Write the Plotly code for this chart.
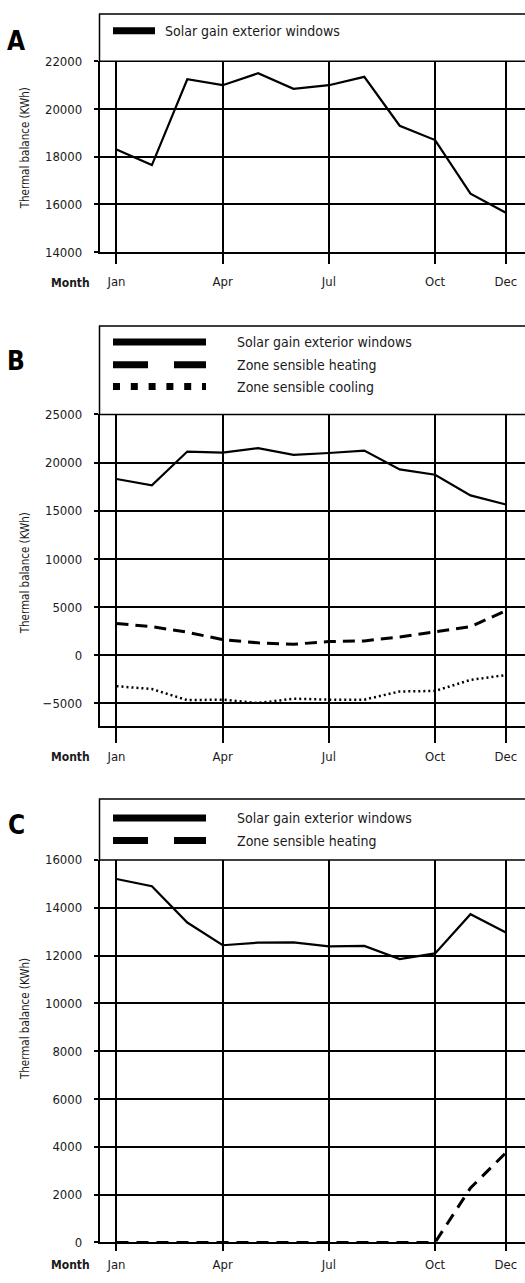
import plotly.graph_objects as go

W, H = 525, 1283

months = ["Jan", "Feb", "Mar", "Apr", "May", "Jun", "Jul", "Aug", "Sep", "Oct", "Nov", "Dec"]
month_num = list(range(1, 13))
tick_months = [1, 4, 7, 10, 12]
tick_labels = ["Jan", "Apr", "Jul", "Oct", "Dec"]

# Panel A
solar_A = [18300, 17650, 21250, 21000, 21500, 20850, 21000, 21350, 19300, 18700, 16450, 15650]
# Panel B
solar_B = [18300, 17650, 21150, 21050, 21500, 20800, 21000, 21250, 19300, 18750, 16600, 15650]
heating_B = [3300, 2970, 2400, 1630, 1300, 1150, 1430, 1500, 1900, 2430, 2970, 4630]
cooling_B = [-3200, -3500, -4650, -4600, -4950, -4500, -4600, -4600, -3750, -3700, -2550, -2050]
# Panel C
solar_C = [15200, 14900, 13380, 12430, 12540, 12550, 12380, 12400, 11850, 12090, 13730, 12960]
heating_C = [0, 0, 0, 0, 0, 0, 0, 0, 0, 0, 2275, 3750]

names = ["Solar gain exterior windows", "Zone sensible heating", "Zone sensible cooling"]

FONT = "DejaVu Sans Condensed, Liberation Sans Narrow, Roboto Condensed, Liberation Sans"


def px(x):
    return x / W


def py(y):
    return 1 - y / H


fig = go.Figure()

solid = dict(color="black", width=2.2)
dashed = dict(color="black", width=3, dash="12px,7px")
dotted = dict(color="black", width=2.5, dash="2px,3px")
dashedC = dict(color="black", width=3, dash="12px,8px")

fig.add_trace(go.Scatter(x=month_num, y=solar_A, mode="lines", line=solid, xaxis="x", yaxis="y", name=names[0]))
fig.add_trace(go.Scatter(x=month_num, y=solar_B, mode="lines", line=solid, xaxis="x2", yaxis="y2", name=names[0]))
fig.add_trace(go.Scatter(x=month_num, y=heating_B, mode="lines", line=dashed, xaxis="x2", yaxis="y2", name=names[1]))
fig.add_trace(go.Scatter(x=month_num, y=cooling_B, mode="lines", line=dotted, xaxis="x2", yaxis="y2", name=names[2]))
fig.add_trace(go.Scatter(x=month_num, y=solar_C, mode="lines", line=solid, xaxis="x3", yaxis="y3", name=names[0]))
fig.add_trace(go.Scatter(x=month_num, y=heating_C, mode="lines", line=dashedC, xaxis="x3", yaxis="y3", name=names[1]))

# panel geometry (pixel positions)
panels = {
    "A": dict(frame_top=7, top=55, bottom=248, rng=[14000, 22000], tickvals=list(range(14000, 22001, 2000)),
              ticklen=10, label_y=34, title_y=143, month_y=279),
    "B": dict(frame_top=322.7, top=412.3, bottom=727.7, rng=[-7355, 25000], tickvals=list(range(-5000, 25001, 5000)),
              ticklen=15, label_y=358, title_y=573, month_y=758.5),
    "C": dict(frame_top=801.4, top=863, bottom=1250, rng=[0, 16000], tickvals=list(range(0, 16001, 2000)),
              ticklen=7, label_y=827.6, title_y=1024, month_y=1273),
}

x_left = 99.5
axis_common = dict(showgrid=True, gridcolor="black", gridwidth=1.5, showline=True, linecolor="black",
                   linewidth=1.5, zeroline=False, ticks="outside", tickcolor="black", tickwidth=1.5)
tickfont = dict(family=FONT, size=13, color="#1a1a1a")

layout = dict(width=W, height=H, margin=dict(l=0, r=0, t=0, b=0), plot_bgcolor="white",
              paper_bgcolor="white", showlegend=False)
shapes = []
annotations = []

for i, key in enumerate(["A", "B", "C"]):
    p = panels[key]
    sfx = "" if i == 0 else str(i + 1)
    standoff = int(round(max(0, p["month_y"] - p["bottom"] - p["ticklen"] - 14)))
    layout["xaxis" + sfx] = dict(axis_common, domain=[px(x_left), 1.0], range=[0.52, 12.54],
                                 tickmode="array", tickvals=tick_months, ticktext=tick_labels,
                                 ticklen=p["ticklen"], tickfont=tickfont, anchor="y" + sfx,
                                 ticklabelstandoff=standoff)
    layout["yaxis" + sfx] = dict(axis_common, domain=[py(p["bottom"]), py(p["top"])], range=p["rng"],
                                 tickmode="array", tickvals=p["tickvals"], tickformat="d", ticklen=4,
                                 tickfont=tickfont, anchor="x" + sfx, ticklabelstandoff=9)
    # legend box frame
    shapes.append(dict(type="rect", xref="paper", yref="paper", x0=px(x_left), x1=1.02,
                       y0=py(p["top"]), y1=py(p["frame_top"]), line=dict(color="black", width=1.5)))
    # panel letter
    annotations.append(dict(text="<b>%s</b>" % key, x=px(16), y=py(p["label_y"]), xref="paper", yref="paper",
                            showarrow=False, xanchor="center", yanchor="middle",
                            font=dict(family=FONT, size=26, color="black")))
    # y title
    annotations.append(dict(text="Thermal balance (KWh)", x=px(25), y=py(p["title_y"]), xref="paper",
                            yref="paper", showarrow=False, textangle=-90, xanchor="center", yanchor="middle",
                            font=dict(family=FONT, size=11.5, color="#1a1a1a")))
    # month label
    annotations.append(dict(text="<b>Month</b>", x=px(92), y=py(p["month_y"]), xref="paper", yref="paper",
                            showarrow=False, xanchor="right", yanchor="middle",
                            font=dict(family=FONT, size=12, color="#1a1a1a")))

# legends
def legend_item(y, text, kind, x0, x1, tx):
    if kind == "solid":
        ln = dict(color="black", width=7)
    elif kind == "dash":
        ln = dict(color="black", width=7, dash="35px,26px")
    else:
        ln = dict(color="black", width=7, dash="7px,10.8px")
    shapes.append(dict(type="line", xref="paper", yref="paper", x0=px(x0), x1=px(x1), y0=py(y), y1=py(y),
                       line=ln))
    annotations.append(dict(text=text, x=px(tx), y=py(y), xref="paper", yref="paper", showarrow=False,
                            xanchor="left", yanchor="middle", font=dict(family=FONT, size=14, color="#1a1a1a")))


legend_item(24, names[0], "solid", 113, 155, 163)
legend_item(339, names[0], "solid", 113, 206, 235)
legend_item(362, names[1], "dash", 113, 206, 235)
legend_item(384, names[2], "dot", 113, 206, 235)
legend_item(820.7, names[0], "solid", 113, 206, 235)
legend_item(843.4, names[1], "dash", 113, 206, 235)

layout["shapes"] = shapes
layout["annotations"] = annotations
fig.update_layout(**layout)

post = ("var d=document.getElementById('{plot_id}');"
        "d.style.position='absolute';d.style.top='0px';d.style.left='0px';"
        "document.documentElement.style.margin='0';document.body.style.margin='0';"
        "document.body.style.padding='0';document.documentElement.style.overflow='hidden';"
        "document.body.style.overflow='hidden';")
fig.write_html("out.html", config={"displayModeBar": False}, post_script=post)
